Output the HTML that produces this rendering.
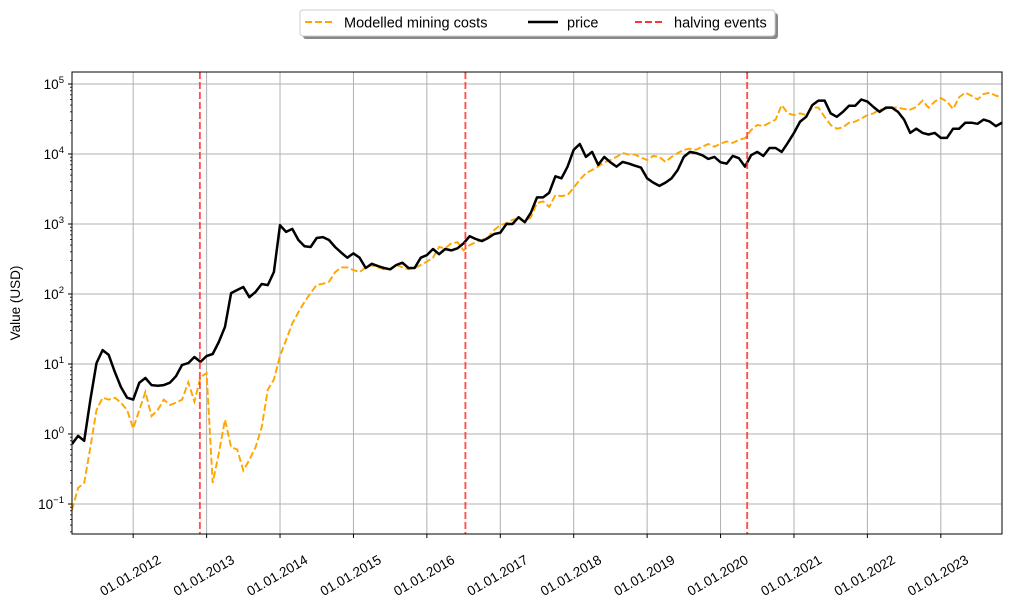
<!DOCTYPE html>
<html><head><meta charset="utf-8"><style>
body{margin:0;background:#fff;}
svg{display:block;font-family:"Liberation Sans",sans-serif;}
</style></head><body>
<svg id="chart" width="1012" height="605"></svg>
<script>
const price=[0.72,0.94,0.8,3.1,10.3,15.8,13.5,7.7,4.7,3.3,3.1,5.4,6.3,5,4.9,5,5.4,6.7,9.7,10.3,12.6,10.7,13,13.9,20.6,34,103,114,126,90,107,139,134,206,
960,770,850,590,480,470,630,650,590,470,390,330,380,330,235,270,250,235,225,260,280,235,235,330,360,440,370,440,420,450,530,670,610,570,630,720,750,1000,1000,
1250,1060,1450,2400,2400,2800,4800,4500,6600,11500,13900,9100,10700,7000,9100,7600,6600,7700,7300,6800,6400,4500,3900,3500,3900,4500,5900,9100,10700,10300,9600,8500,9100,7600,7300,9400,
8700,6600,9600,10700,9400,12200,12200,10700,14500,20000,29000,34000,50000,58000,58000,38000,34000,40000,49000,49000,60000,56000,47000,40000,46000,46000,40000,31000,20000,23000,20000,19000,20000,17000,17000,23000,23000,28000,28000,27000,31000,29000,25000,28000];
const cost=[0.082,0.17,0.2,0.65,2.2,3.3,3.1,3.3,2.8,2.2,1.2,2.2,4,1.8,2.2,3.1,2.6,2.8,3.1,5.5,2.9,6.5,7.4,0.2,0.53,1.6,0.65,0.6,0.3,0.43,0.65,1.25,4.3,6,
13,22,38,55,77,103,135,140,150,205,240,240,220,205,240,260,240,225,225,260,240,225,235,260,290,330,470,450,530,550,420,500,550,590,650,820,960,1030,1150,
1200,1060,1250,2000,2100,1750,2600,2500,2600,3300,4300,5300,5900,6600,7600,8200,9100,10300,9800,9800,8900,8200,9400,9100,7700,9100,10300,11500,11900,11500,12700,13900,12700,14100,15100,14400,
15900,16800,22000,26000,25000,28000,31000,50000,38000,36000,38000,36000,46000,46000,34000,26000,23000,24000,28000,29000,32000,36000,38000,43000,44000,46000,46000,44000,43000,47000,58000,46000,56000,63000,56000,44000,65000,75000,68000,60000,72000,75000,68000,65000];
const halvings=[20.9,64.3,110.35];
const xTickLabels=["01.01.2012","01.01.2013","01.01.2014","01.01.2015","01.01.2016","01.01.2017","01.01.2018","01.01.2019","01.01.2020","01.01.2021","01.01.2022","01.01.2023"];
const yTickExps=[-1,0,1,2,3,4,5];

const L=72,R=1002,T=72,B=534,N=152;
const xS=i=>L+i*(R-L)/N;
const yS=v=>434-70*Math.log10(v);
const NS="http://www.w3.org/2000/svg";
const svg=document.getElementById('chart');
function mk(tag,attrs,parent){const e=document.createElementNS(NS,tag);for(const k in attrs)e.setAttribute(k,attrs[k]);(parent||svg).appendChild(e);return e;}

const clip=mk('clipPath',{id:'pc'});mk('rect',{x:L,y:T,width:R-L,height:B-T},clip);

xTickLabels.forEach((lab,k)=>{
  const x=xS(10+12*k);
  const g=mk('line',{x1:x,x2:x,y1:T,y2:B,stroke:'#b0b0b0','stroke-width':1});
  
  
  mk('line',{x1:x,x2:x,y1:B,y2:B+4,stroke:'#000','stroke-width':1});
  const cx=x-3, cy=575;
  const t=mk('text',{x:cx,y:cy+5,'font-size':13.5,'text-anchor':'middle',transform:`rotate(-30 ${cx} ${cy})`});
  t.textContent=lab;
  
  
});
yTickExps.forEach(e=>{
  const y=yS(Math.pow(10,e));
  const g=mk('line',{x1:L,x2:R,y1:y,y2:y,stroke:'#b0b0b0','stroke-width':1});
  
  
  mk('line',{x1:L-4,x2:L,y1:y,y2:y,stroke:'#000','stroke-width':1});
  const t=mk('text',{x:L-8,y:y+5,'font-size':13.5,'text-anchor':'end'});
  t.innerHTML='10<tspan dy="-6" font-size="9.5">'+(e<0?'\u2212'+(-e):e)+'</tspan>';
  
  
});
for(let e=-2;e<=5;e++){for(let m=2;m<=9;m++){const y=yS(m*Math.pow(10,e));if(y>T&&y<B)mk('line',{x1:L-2,x2:L,y1:y,y2:y,stroke:'#000','stroke-width':0.8});}}

const pts=a=>a.map((v,i)=>xS(i).toFixed(1)+','+yS(v).toFixed(1)).join(' ');
const c=mk('polyline',{points:pts(cost),fill:'none',stroke:'#ffa500','stroke-width':1.9,'stroke-dasharray':'7,3','clip-path':'url(#pc)'});


const p=mk('polyline',{points:pts(price),fill:'none',stroke:'#000','stroke-width':2.5,'stroke-linejoin':'round','clip-path':'url(#pc)'});


halvings.forEach(h=>{
  const x=xS(h);
  const l=mk('line',{x1:x,x2:x,y1:T,y2:B,stroke:'#ff3333','stroke-opacity':0.85,'stroke-width':1.9,'stroke-dasharray':'7,3'});
  
  
});
const fr=mk('rect',{x:L,y:T,width:R-L,height:B-T,fill:'none',stroke:'#000','stroke-width':1});


const yt=mk('text',{x:20,y:303,'font-size':13.5,'text-anchor':'middle',transform:'rotate(-90 20 303)'});
yt.textContent='Value (USD)';



const lg=mk('g',{});


mk('rect',{x:303,y:13,width:475,height:26,rx:3,fill:'#888'},lg);
mk('rect',{x:300,y:10,width:475,height:26,rx:3,fill:'#fff',stroke:'#ccc'},lg);
const items=[["Modelled mining costs",'#ffa500','7,3',305,1.9],["price",'#000','',528,2.5],["halving events",'#ff3333','7,3',635,1.9]];
items.forEach(it=>{
  const g=mk('g',{},lg);
  
  
  mk('line',{x1:it[3],x2:it[3]+30,y1:22,y2:22,stroke:it[1],'stroke-width':it[4],'stroke-dasharray':it[2]},g);
  const t=mk('text',{x:it[3]+39,y:27.5,'font-size':14.5},g);t.textContent=it[0];
});
</script>
</body></html>
